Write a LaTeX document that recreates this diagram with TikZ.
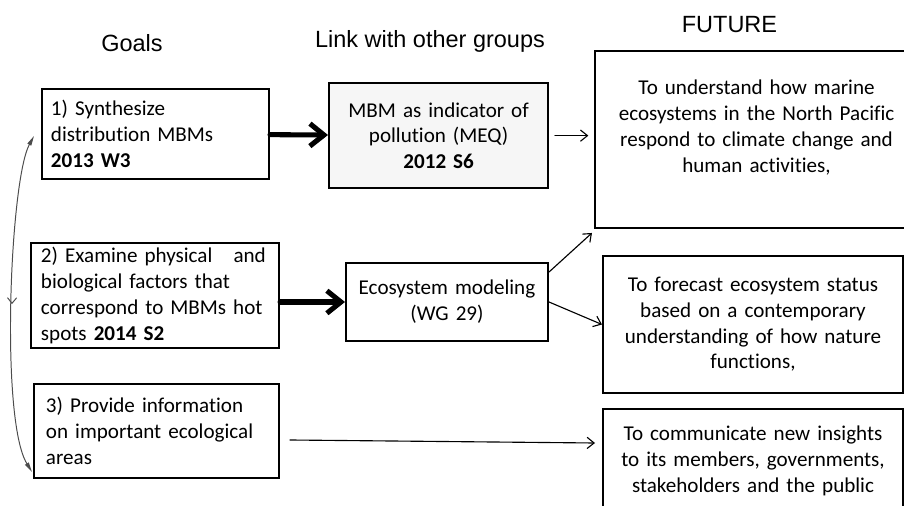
\documentclass[tikz,border=0pt]{standalone}
\usepackage{fontspec}
\setmainfont{Carlito}[Ligatures=NoCommon]
\newfontfamily\headfont{Liberation Sans}
\usetikzlibrary{arrows.meta,calc,decorations.markings}
\begin{document}
\begin{tikzpicture}[x=.025cm, y=-.025cm, font=\fontsize{15}{18.3}\selectfont, line cap=round, >={Straight Barb[length=5pt,width=8pt]}]
	\tikzset{
		goal/.style={draw, line width=1.4pt, anchor=north west, align=left, inner ysep=0pt},
		fut/.style={draw, line width=1.4pt, anchor=north west, align=center, inner xsep=0pt, inner ysep=0pt},
		head/.style={font=\headfont\fontsize{16.7}{20}\selectfont, anchor=base},
		thick arr/.style={line width=3.6pt, -{Straight Barb[length=10pt,width=16pt]}},
		thin arr/.style={line width=.8pt, ->, shorten <=4pt, shorten >=4pt}
	}
	\useasboundingbox (0,0) rectangle (904,506);
	\clip (0,0) rectangle (904,506);
	\node[head] (hgoals) at (132,52) {Goals};
	\node[head] (hlink) at (430,48) {Link with other groups};
	\node[head] (hfut) at (729.5,32) {FUTURE};
	\node[goal, text width=5.225cm, inner xsep=.225cm, minimum height=2.25cm] (g1) at (41,88) {1) Synthesize\\distribution MBMs\\\textbf{2013 W3}};
	\node[goal, text width=5.7cm, inner xsep=.25cm, minimum height=2.625cm] (g2) at (30,242) {2) Examine physical~~ and\\biological factors that\\correspond to MBMs hot\\spots \textbf{2014 S2}};
	\node[goal, text width=5.525cm, inner xsep=.3cm, minimum height=2.35cm] (g3) at (33,383) {3) Provide information\\on important ecological\\areas};
	\node[fut, fill=gray!7, line width=1.6pt, text width=5.475cm, minimum height=2.625cm] (mbm) at (328,82) {MBM as indicator of\\pollution (MEQ)\\\textbf{2012 S6}};
	\node[fut, text width=5.05cm, minimum height=1.95cm] (eco) at (345,262) {Ecosystem modeling\\(WG 29)};
	\node[fut, text width=8.075cm, minimum height=4.425cm] (fut1) at (594,50) {To understand how marine\\ecosystems in the North Pacific\\respond to climate change and\\human activities,\\[17pt]\hrule height 0pt};
	\node[fut, text width=7.5cm, minimum height=3.425cm] (fut2) at (602,255) {To forecast ecosystem status\\based on a contemporary\\understanding of how nature\\functions,};
	\node[fut, text width=7.5cm, minimum height=2.6cm] (fut3) at (602,408) {To communicate new insights\\to its members, governments,\\stakeholders and the public};
	\draw[thick arr] (g1) -- (mbm);
	\draw[thick arr] (g2.east |- eco) -- (eco.west);
	\draw[thin arr] (mbm.east) -- (mbm.east -| fut1.west);
	\draw[thin arr, shorten <=0pt, shorten >=1pt] ($(eco.north east)+(0,10)$) -- ($(fut1.south west)+(-1,3)$);
	\draw[thin arr, shorten <=0pt, shorten >=0pt] (eco.east) -- (fut2.west);
	\draw[thin arr, shorten <=0pt, shorten >=0pt] ($(g3.east)+(10,9)$) -- ($(fut3.north west)+(-7,35)$);
	\draw[black!70, line width=.7pt, {Triangle[length=7pt,width=3pt]}-{Triangle[length=7pt,width=3pt]}, postaction={decorate},
		decoration={markings, mark=at position .5 with {\arrow{Straight Barb[length=4pt,width=6.5pt]}}}]
		($(g1.west)+(-7,2)$) .. controls (10,180) and (0,420) .. ($(g3.south west)+(-1,-7)$);
\end{tikzpicture}
\end{document}
